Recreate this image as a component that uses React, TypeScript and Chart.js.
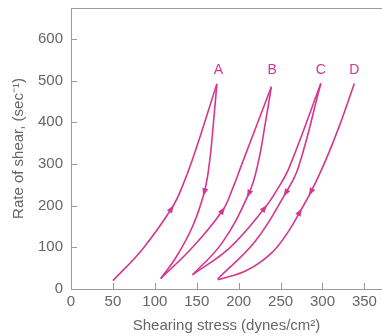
import React, { useEffect, useRef } from "react";
import { Chart, registerables } from "chart.js";
Chart.register(...registerables);

// Axis ticks
const xTickValues = [0, 50, 100, 150, 200, 250, 300, 350];
const yTickValues = [0, 100, 200, 300, 400, 500, 600];

// Curves: [shearing stress, rate of shear], ordered bottom to top
const aUp = [[50, 20], [85, 95], [120, 193], [132, 242], [146, 317], [174, 492]];
const aDown = [[107, 25], [125, 75], [145, 150], [159, 232], [165, 300], [170, 400], [174, 492]];
const bUp = [[107, 25], [145, 100], [181, 189], [193, 242], [202, 290], [239, 485]];
const bDown = [[145, 34], [180, 110], [212, 228], [223, 300], [232, 400], [239, 485]];
const cUp = [[145, 34], [190, 100], [231, 194], [247, 242], [260, 290], [298, 493]];
const cDown = [[175, 24], [220, 115], [256, 230], [271, 290], [298, 493]];
const dCurve = [[175, 22], [210, 45], [240, 88], [260, 140], [273, 185], [286, 232], [302, 300], [320, 390], [338, 493]];

const curves = [aUp, aDown, bUp, bDown, cUp, cDown, dCurve];

// Arrows: curve index, point index, direction (+1 up, -1 down)
const arrowCurve = [0, 1, 2, 3, 4, 5, 6, 6];
const arrowPoint = [2, 3, 2, 2, 2, 2, 4, 5];
const arrowDir = [1, -1, 1, -1, 1, -1, 1, -1];

// Loop labels
const loopLabels = ["A", "B", "C", "D"];
const loopLabelX = [176, 240, 298, 338];
const loopLabelY = [525, 525, 525, 525];

const PINK = "#d6368e";
const AXIS = "#9a9a9a";
const TEXT = "#666666";
const FONT = "'Liberation Sans', Arial, Helvetica, sans-serif";

const decorPlugin = {
  id: "decor",
  afterDatasetsDraw(chart: any) {
    const { ctx, chartArea, scales } = chart;
    const xs = scales.x;
    const ys = scales.y;
    ctx.save();
    ctx.strokeStyle = AXIS;
    ctx.lineWidth = 1;
    ctx.beginPath();
    ctx.moveTo(chartArea.left, Math.round(chartArea.top) + 0.5);
    ctx.lineTo(chartArea.right, Math.round(chartArea.top) + 0.5);
    ctx.stroke();
    ctx.beginPath();
    yTickValues.forEach((v) => {
      const py = Math.round(ys.getPixelForValue(v)) + 0.5;
      ctx.moveTo(chartArea.left, py);
      ctx.lineTo(chartArea.left + 6, py);
    });
    xTickValues.forEach((v) => {
      const px = Math.round(xs.getPixelForValue(v)) + 0.5;
      ctx.moveTo(px, chartArea.bottom);
      ctx.lineTo(px, chartArea.bottom - 6);
    });
    ctx.stroke();
    ctx.fillStyle = PINK;
    arrowCurve.forEach((ci, k) => {
      const pts = curves[ci];
      const i = arrowPoint[k];
      const p = pts[i];
      const prev = pts[Math.max(0, i - 1)];
      const next = pts[Math.min(pts.length - 1, i + 1)];
      const cx = xs.getPixelForValue(p[0]);
      const cy = ys.getPixelForValue(p[1]);
      let dx = xs.getPixelForValue(next[0]) - xs.getPixelForValue(prev[0]);
      let dy = ys.getPixelForValue(next[1]) - ys.getPixelForValue(prev[1]);
      const len = Math.hypot(dx, dy) || 1;
      dx = (dx / len) * arrowDir[k];
      dy = (dy / len) * arrowDir[k];
      const L = 8;
      const W = 3;
      const tipX = cx + dx * L * 0.5;
      const tipY = cy + dy * L * 0.5;
      const bx = cx - dx * L * 0.5;
      const by = cy - dy * L * 0.5;
      ctx.beginPath();
      ctx.moveTo(tipX, tipY);
      ctx.lineTo(bx - dy * W, by + dx * W);
      ctx.lineTo(bx + dy * W, by - dx * W);
      ctx.closePath();
      ctx.fill();
    });
    ctx.fillStyle = PINK;
    ctx.font = `14px ${FONT}`;
    ctx.textAlign = "center";
    ctx.textBaseline = "middle";
    loopLabels.forEach((t, i) => {
      ctx.fillText(t, xs.getPixelForValue(loopLabelX[i]), ys.getPixelForValue(loopLabelY[i]));
    });
    ctx.restore();
  },
};

export default function App() {
  const ref = useRef<HTMLCanvasElement | null>(null);
  useEffect(() => {
    document.body.style.margin = "0";
    const canvas = ref.current;
    if (!canvas) return;
    const chart = new Chart(canvas, {
      type: "scatter",
      data: {
        datasets: curves.map((c) => ({
          data: c.map((p) => ({ x: p[0], y: p[1] })),
          showLine: true,
          borderColor: PINK,
          backgroundColor: PINK,
          borderWidth: 1.6,
          pointRadius: 0,
          pointHoverRadius: 0,
          tension: 0.4,
          fill: false,
        })),
      },
      options: {
        animation: false,
        responsive: false,
        maintainAspectRatio: false,
        layout: { padding: { top: 8, left: 0, right: 0, bottom: 0 } },
        plugins: { legend: { display: false }, tooltip: { enabled: false } },
        scales: {
          x: {
            type: "linear",
            min: 0,
            max: 371,
            afterBuildTicks: (s: any) => {
              s.ticks = xTickValues.map((v) => ({ value: v }));
            },
            afterFit: (s: any) => {
              s.height = 47;
              s.paddingLeft = 0;
              s.paddingRight = 0;
            },
            grid: { display: false, drawTicks: false },
            border: { display: true, color: AXIS, width: 1 },
            ticks: { color: TEXT, font: { family: FONT, size: 15 }, padding: 4, maxRotation: 0, autoSkip: false },
            title: {
              display: true,
              text: "Shearing stress (dynes/cm²)",
              color: TEXT,
              font: { family: FONT, size: 15 },
              padding: { top: 0, bottom: 1 },
            },
          },
          y: {
            type: "linear",
            min: 0,
            max: 674,
            afterBuildTicks: (s: any) => {
              s.ticks = yTickValues.map((v) => ({ value: v }));
            },
            afterFit: (s: any) => {
              s.width = 71;
              s.paddingTop = 0;
              s.paddingBottom = 0;
            },
            grid: { display: false, drawTicks: false },
            border: { display: true, color: AXIS, width: 1 },
            ticks: { color: TEXT, font: { family: FONT, size: 15 }, padding: 8, autoSkip: false },
            title: {
              display: true,
              text: "Rate of shear, (sec⁻¹)",
              color: TEXT,
              font: { family: FONT, size: 15 },
              padding: { top: 10, bottom: 0 },
            },
          },
        },
      },
      plugins: [decorPlugin],
    });
    return () => chart.destroy();
  }, []);
  return (
    <div style={{ width: 382, height: 336 }}>
      <canvas ref={ref} width={382} height={336} style={{ display: "block" }} />
    </div>
  );
}
